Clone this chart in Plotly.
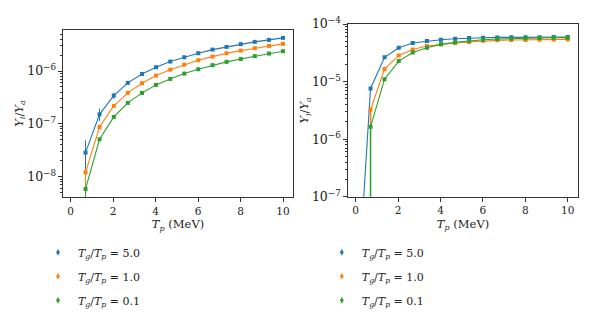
import plotly.graph_objects as go

# ---- data ----
tp = [0.70, 1.36, 2.03, 2.69, 3.36, 4.02, 4.69, 5.35, 6.01, 6.68, 7.34, 8.01, 8.67, 9.34, 10.0]
labels = ["5.0", "1.0", "0.1"]
colors = ["#1f77b4", "#ff7f0e", "#2ca02c"]

# left panel
left_y = [
    [2.85e-8, 1.51e-7, 3.42e-7, 5.96e-7, 8.8e-7, 1.18e-6, 1.51e-6, 1.82e-6, 2.17e-6, 2.54e-6, 2.86e-6, 3.22e-6, 3.56e-6, 3.88e-6, 4.24e-6],
    [1.21e-8, 8.7e-8, 2.18e-7, 3.85e-7, 5.87e-7, 8.2e-7, 1.06e-6, 1.32e-6, 1.60e-6, 1.87e-6, 2.17e-6, 2.43e-6, 2.70e-6, 2.99e-6, 3.26e-6],
    [5.85e-9, 5.1e-8, 1.35e-7, 2.49e-7, 3.85e-7, 5.46e-7, 7.08e-7, 8.93e-7, 1.08e-6, 1.29e-6, 1.49e-6, 1.69e-6, 1.91e-6, 2.14e-6, 2.37e-6],
]
left_err_plus = [
    [2.0e-8, 4.5e-8, 4.5e-8, 3.0e-8, 2.5e-8, 0, 0, 0, 0, 0, 0, 0, 0, 0, 0],
    [2.0e-9, 0, 0, 0, 0, 0, 0, 0, 0, 0, 0, 0, 0, 0, 0],
    [0, 0, 0, 0, 0, 0, 0, 0, 0, 0, 0, 0, 0, 0, 0],
]
left_err_minus = [
    [2.0e-8, 3.8e-8, 4.5e-8, 3.0e-8, 2.5e-8, 0, 0, 0, 0, 0, 0, 0, 0, 0, 0],
    [6.5e-9, 0, 0, 0, 0, 0, 0, 0, 0, 0, 0, 0, 0, 0, 0],
    [5.84e-9, 0, 0, 0, 0, 0, 0, 0, 0, 0, 0, 0, 0, 0, 0],
]

# right panel
right_x = [
    [0.036] + tp,
    tp,
    tp,
]
right_y = [
    [1.0e-9, 7.6e-6, 2.64e-5, 3.87e-5, 4.67e-5, 5.06e-5, 5.33e-5, 5.55e-5, 5.71e-5, 5.79e-5, 5.85e-5, 5.88e-5, 5.90e-5, 5.92e-5, 5.93e-5, 5.95e-5],
    [3.24e-6, 1.65e-5, 2.85e-5, 3.62e-5, 4.14e-5, 4.43e-5, 4.67e-5, 4.86e-5, 5.10e-5, 5.20e-5, 5.27e-5, 5.30e-5, 5.33e-5, 5.38e-5, 5.40e-5],
    [1.64e-6, 1.10e-5, 2.27e-5, 3.21e-5, 3.87e-5, 4.43e-5, 4.80e-5, 5.13e-5, 5.33e-5, 5.48e-5, 5.60e-5, 5.66e-5, 5.72e-5, 5.76e-5, 5.80e-5],
]
right_err_plus = [
    [0] * 16,
    [0] * 15,
    [0] * 15,
]
right_err_minus = [
    [0] * 16,
    [1.6e-6] + [0] * 14,
    [1.6399e-6] + [0] * 14,
]

font_family = "DejaVu Serif"
fig = go.Figure()

for i in range(3):
    name = f"<i>T</i><sub><i>g</i></sub>/<i>T</i><sub><i>p</i></sub> = {labels[i]}"
    fig.add_trace(go.Scatter(
        x=tp, y=left_y[i], mode="lines+markers",
        line=dict(color=colors[i], width=1.1),
        marker=dict(color=colors[i], size=4, symbol="square"),
        error_y=dict(type="data", symmetric=False, array=left_err_plus[i],
                     arrayminus=left_err_minus[i], color=colors[i], thickness=1, width=0),
        showlegend=False, xaxis="x", yaxis="y"))
    fig.add_trace(go.Scatter(
        x=right_x[i], y=right_y[i], mode="lines+markers",
        line=dict(color=colors[i], width=1.1),
        marker=dict(color=colors[i], size=4, symbol="square"),
        error_y=dict(type="data", symmetric=False, array=right_err_plus[i],
                     arrayminus=right_err_minus[i], color=colors[i], thickness=1.5, width=0),
        showlegend=False, xaxis="x2", yaxis="y2"))
    for lg in ["legend", "legend2"]:
        fig.add_trace(go.Scatter(
            x=[None], y=[None], mode="markers", name=name,
            marker=dict(color=colors[i], size=5, symbol="diamond-tall"),
            legend=lg, legendgroup=f"{lg}-{i}", showlegend=True,
            xaxis="x" if lg == "legend" else "x2",
            yaxis="y" if lg == "legend" else "y2"))

axis_common = dict(showline=True, linecolor="#333333", linewidth=1, mirror=True,
                   ticks="outside", ticklen=4, tickcolor="#333333", showgrid=False,
                   zeroline=False, automargin=False)
xtick_font = dict(family=font_family, size=10.5, color="#222")
ytick_font = dict(family=font_family, size=10, color="#222")
ylog = dict(type="log", dtick=1, exponentformat="power", showexponent="all",
            minor=dict(ticks="outside", ticklen=2, tickcolor="#333333", showgrid=False))
title_font = dict(family=font_family, size=11.5, color="#222")

fig.update_layout(
    width=600, height=327,
    margin=dict(l=0, r=0, t=0, b=0),
    paper_bgcolor="white", plot_bgcolor="white",
    font=dict(family=font_family, size=11, color="#222"),
    xaxis=dict(domain=[0.0917, 0.475], range=[-0.36, 10.47], dtick=2, anchor="y",
               tickfont=xtick_font,
               title=dict(text="<i>T</i><sub><i>p</i></sub> (MeV)", standoff=4, font=title_font),
               **axis_common),
    yaxis=dict(domain=[0.422, 0.9327], range=[-8.385, -5.224], anchor="x",
               tickfont=ytick_font,
               title=dict(text="<i>Y</i><sub><i>i</i></sub>/<i>Y</i><sub><i>a</i></sub>", standoff=0, font=title_font),
               **ylog, **axis_common),
    xaxis2=dict(domain=[0.5662, 0.9505], range=[-0.377, 10.5], dtick=2, anchor="y2",
                tickfont=xtick_font,
                title=dict(text="<i>T</i><sub><i>p</i></sub> (MeV)", standoff=4, font=title_font),
                **axis_common),
    yaxis2=dict(domain=[0.4229, 0.951], range=[-7, -4], anchor="x2",
                tickfont=ytick_font,
                title=dict(text="<i>Y</i><sub><i>i</i></sub>/<i>Y</i><sub><i>a</i></sub>", standoff=0, font=title_font),
                **ylog, **axis_common),
    legend=dict(x=0.050, y=0.2975, xanchor="left", yanchor="top", bgcolor="rgba(0,0,0,0)",
                font=dict(family=font_family, size=11), tracegroupgap=5, itemwidth=30),
    legend2=dict(x=0.523, y=0.2975, xanchor="left", yanchor="top", bgcolor="rgba(0,0,0,0)",
                 font=dict(family=font_family, size=11), tracegroupgap=5, itemwidth=30),
)

fig.write_html("out.html")
